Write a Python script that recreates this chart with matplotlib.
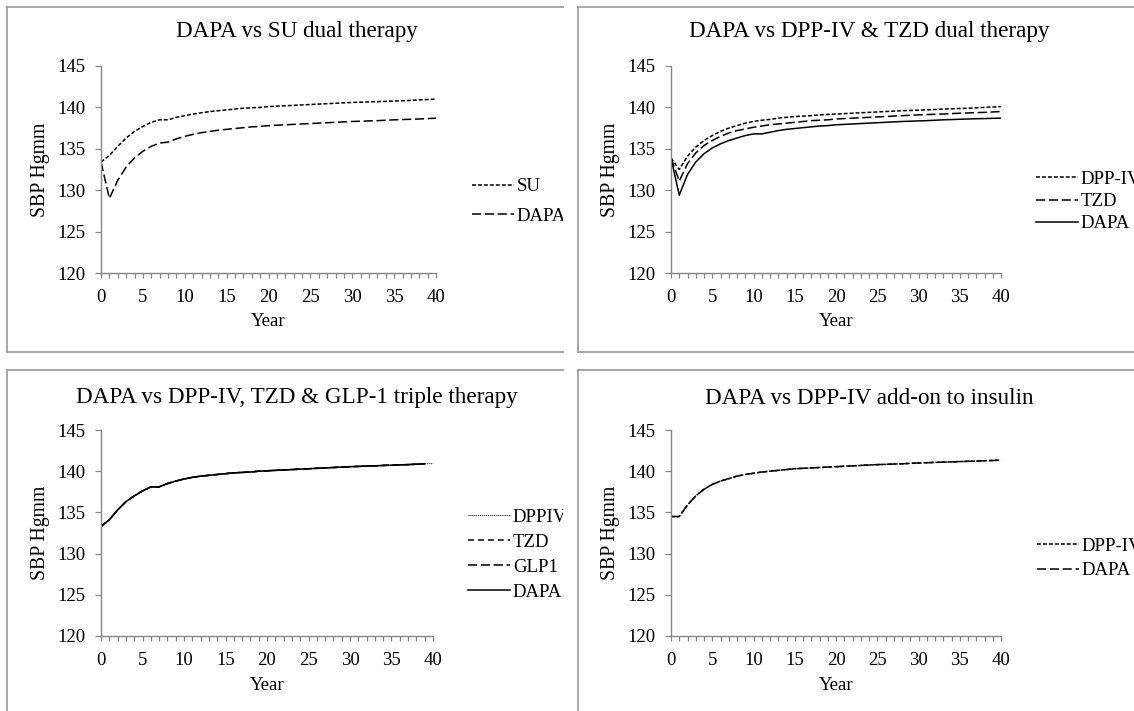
import matplotlib
matplotlib.use('Agg')
import matplotlib.pyplot as plt
from matplotlib.lines import Line2D
from matplotlib.ticker import MultipleLocator
from matplotlib.transforms import Bbox

plt.rcParams['font.family'] = ['Liberation Serif', 'DejaVu Serif']

W, H = 1134, 711

years = list(range(41))
years_39 = list(range(40))

# DAPA vs SU dual therapy
su_dual = [133.4, 134.2, 135.3, 136.3, 137.1, 137.7, 138.2, 138.5, 138.5, 138.8,
           139.0, 139.2, 139.35, 139.5, 139.6, 139.7, 139.8, 139.9, 139.95, 140.0,
           140.1, 140.15, 140.2, 140.25, 140.3, 140.35, 140.4, 140.45, 140.5, 140.55,
           140.6, 140.63, 140.67, 140.7, 140.73, 140.77, 140.8, 140.85, 140.9, 140.95,
           141.0]
dapa_su = [133.4, 129.0, 131.2, 132.8, 133.9, 134.7, 135.3, 135.7, 135.8, 136.2,
           136.5, 136.75, 136.95, 137.1, 137.25, 137.35, 137.45, 137.55, 137.65, 137.7,
           137.8, 137.85, 137.9, 137.95, 138.0, 138.05, 138.1, 138.15, 138.2, 138.25,
           138.3, 138.33, 138.37, 138.4, 138.45, 138.5, 138.53, 138.57, 138.6, 138.65,
           138.7]

# DAPA vs DPP-IV & TZD dual therapy
dpp4_dual = [133.9, 132.5, 134.1, 135.2, 136.0, 136.6, 137.1, 137.5, 137.8, 138.1,
             138.3, 138.45, 138.55, 138.7, 138.8, 138.9, 138.95, 139.0, 139.1, 139.15,
             139.2, 139.25, 139.3, 139.35, 139.4, 139.45, 139.5, 139.55, 139.6, 139.63,
             139.67, 139.7, 139.75, 139.8, 139.83, 139.87, 139.9, 139.95, 140.0, 140.05,
             140.1]
tzd_dual = [133.9, 131.1, 133.2, 134.5, 135.4, 136.0, 136.5, 136.9, 137.2, 137.4,
            137.6, 137.75, 137.9, 138.0, 138.1, 138.2, 138.3, 138.4, 138.45, 138.5,
            138.6, 138.65, 138.7, 138.75, 138.8, 138.85, 138.9, 138.95, 139.0, 139.05,
            139.1, 139.13, 139.17, 139.2, 139.25, 139.3, 139.33, 139.37, 139.4, 139.45,
            139.5]
dapa_dual = [133.9, 129.4, 131.9, 133.4, 134.4, 135.1, 135.6, 136.0, 136.3, 136.6,
             136.8, 136.8, 137.0, 137.2, 137.35, 137.45, 137.55, 137.65, 137.75, 137.8,
             137.9, 137.95, 138.0, 138.05, 138.1, 138.15, 138.2, 138.25, 138.3, 138.33,
             138.37, 138.4, 138.45, 138.5, 138.53, 138.57, 138.6, 138.63, 138.65, 138.68,
             138.7]

# DAPA vs DPP-IV, TZD & GLP-1 triple therapy (curves coincide)
dpp4_triple = [133.3, 134.1, 135.3, 136.3, 137.0, 137.6, 138.1, 138.1, 138.5, 138.8,
               139.05, 139.25, 139.4, 139.5, 139.6, 139.7, 139.8, 139.85, 139.9, 140.0,
               140.05, 140.1, 140.15, 140.2, 140.25, 140.3, 140.35, 140.4, 140.45, 140.5,
               140.55, 140.58, 140.62, 140.65, 140.7, 140.73, 140.77, 140.8, 140.85, 140.9,
               140.93]
tzd_triple = [133.3, 134.1, 135.3, 136.3, 137.0, 137.6, 138.1, 138.1, 138.5, 138.8,
              139.05, 139.25, 139.4, 139.5, 139.6, 139.7, 139.8, 139.85, 139.9, 140.0,
              140.05, 140.1, 140.15, 140.2, 140.25, 140.3, 140.35, 140.4, 140.45, 140.5,
              140.55, 140.58, 140.62, 140.65, 140.7, 140.73, 140.77, 140.8, 140.85, 140.9]
glp1_triple = [133.3, 134.1, 135.3, 136.3, 137.0, 137.6, 138.1, 138.1, 138.5, 138.8,
               139.05, 139.25, 139.4, 139.5, 139.6, 139.7, 139.8, 139.85, 139.9, 140.0,
               140.05, 140.1, 140.15, 140.2, 140.25, 140.3, 140.35, 140.4, 140.45, 140.5,
               140.55, 140.58, 140.62, 140.65, 140.7, 140.73, 140.77, 140.8, 140.85, 140.9]
dapa_triple = [133.3, 134.1, 135.3, 136.3, 137.0, 137.6, 138.1, 138.1, 138.5, 138.8,
               139.05, 139.25, 139.4, 139.5, 139.6, 139.7, 139.8, 139.85, 139.9, 140.0,
               140.05, 140.1, 140.15, 140.2, 140.25, 140.3, 140.35, 140.4, 140.45, 140.5,
               140.55, 140.58, 140.62, 140.65, 140.7, 140.73, 140.77, 140.8, 140.85, 140.9]

# DAPA vs DPP-IV add-on to insulin (curves coincide)
dpp4_ins = [134.5, 134.5, 135.9, 137.0, 137.8, 138.4, 138.8, 139.1, 139.4, 139.6,
            139.75, 139.9, 140.0, 140.1, 140.2, 140.3, 140.35, 140.4, 140.45, 140.5,
            140.55, 140.6, 140.65, 140.7, 140.75, 140.8, 140.83, 140.87, 140.9, 140.95,
            141.0, 141.03, 141.07, 141.1, 141.13, 141.17, 141.2, 141.23, 141.27, 141.3,
            141.35]
dapa_ins = list(dpp4_ins)

LW = 1.1
SHORT = (0, (2.6, 1.3))
MEDIUM = (0, (3.9, 2.6))
LONG = (0, (6.0, 2.4))
GRID_GREY = '#868686'
BORDER_GREY = '#a0a0a0'
FS = 13.5

fig = plt.figure(figsize=(W / 100, H / 100), dpi=100)


def fx(x):
    return x / W


def fy(y):
    return 1 - y / H


def border(x0, y0, x1, y1=None):
    # chart frame: left and top edge, bottom only when visible
    fig.add_artist(Line2D([fx(x0), fx(x0)], [fy(y0), fy(y1 if y1 else H + 5)],
                          color=BORDER_GREY, lw=1.3))
    fig.add_artist(Line2D([fx(x0), fx(x1)], [fy(y0), fy(y0)], color=BORDER_GREY, lw=1.3))
    if y1:
        fig.add_artist(Line2D([fx(x0), fx(x1)], [fy(y1), fy(y1)], color=BORDER_GREY, lw=1.3))


def panel(box, title, title_xy, ylab_x, year_y, series, leg_x, leg_y, spacing, clip_x):
    x0, y0, x1, y1 = box
    ax = fig.add_axes([fx(x0), fy(y1), (x1 - x0) / W, (y1 - y0) / H])
    handles = []
    for xs, ys, label, style, lw in series:
        ln, = ax.plot(xs, ys, color='black', linestyle=style, lw=lw, label=label)
        handles.append(ln)
    ax.set_xlim(0, 40)
    ax.set_ylim(120, 145)
    ax.xaxis.set_major_locator(MultipleLocator(5))
    ax.xaxis.set_minor_locator(MultipleLocator(1))
    ax.yaxis.set_major_locator(MultipleLocator(5))
    for s in ('top', 'right'):
        ax.spines[s].set_visible(False)
    for s in ('left', 'bottom'):
        ax.spines[s].set_color(GRID_GREY)
        ax.spines[s].set_linewidth(1.0)
    ax.tick_params(axis='x', which='both', direction='out', length=3.3, width=0.9,
                   color=GRID_GREY, labelsize=FS, pad=8)
    ax.tick_params(axis='y', which='both', direction='out', length=4.3, width=0.9,
                   color=GRID_GREY, labelsize=FS, pad=7)

    fig.text(fx(title_xy[0]), fy(title_xy[1]), title, ha='center', va='center', fontsize=16.7)
    fig.text(fx(ylab_x), fy((y0 + y1) / 2), 'SBP Hgmm', rotation=90,
             ha='center', va='center', fontsize=14.2)
    fig.text(fx((x0 + x1) / 2), fy(year_y), 'Year', ha='center', va='center', fontsize=FS)

    leg = ax.legend(handles=handles, loc='center left',
                    bbox_to_anchor=(fx(leg_x), fy(leg_y)), bbox_transform=fig.transFigure,
                    frameon=False, fontsize=FS, handlelength=2.24, handletextpad=0.15,
                    labelspacing=spacing, borderpad=0, borderaxespad=0)
    # legend text is cut at the chart edge, as in the source figure
    clip = Bbox([[0, 0], [clip_x, H]])
    for t in leg.get_texts():
        t.set_clip_box(clip)
        t.set_clip_on(True)
    return ax


border(7, 7, 563, 352)
border(578, 7, W + 5, 352)
border(7, 370, 563)
border(578, 370, W + 5)

panel((101, 66, 436, 273), 'DAPA vs SU dual therapy', (297, 32), 41, 322,
      [(years, su_dual, 'SU', SHORT, LW),
       (years, dapa_su, 'DAPA', LONG, LW)],
      472, 201.5, 0.67, 563)

panel((671, 66, 1001, 273), 'DAPA vs DPP-IV & TZD dual therapy', (869, 32), 611, 322,
      [(years, dpp4_dual, 'DPP-IV', SHORT, LW),
       (years, tzd_dual, 'TZD', LONG, LW),
       (years, dapa_dual, 'DAPA', '-', LW)],
      1036, 201.5, 0.27, W)

panel((101, 430, 433, 636), 'DAPA vs DPP-IV, TZD & GLP-1 triple therapy', (297, 398), 41, 685,
      [(years, dpp4_triple, 'DPPIV', (0, (1, 1)), 0.7),
       (years_39, tzd_triple, 'TZD', MEDIUM, LW),
       (years_39, glp1_triple, 'GLP1', LONG, LW),
       (years_39, dapa_triple, 'DAPA', '-', LW)],
      468, 554.5, 0.42, 563)

panel((671, 430, 1001, 636), 'DAPA vs DPP-IV add-on to insulin', (869, 398), 611, 685,
      [(years, dpp4_ins, 'DPP-IV', SHORT, LW),
       (years, dapa_ins, 'DAPA', LONG, LW)],
      1037, 558.5, 0.37, W)

fig.savefig('out.png', dpi=100)
